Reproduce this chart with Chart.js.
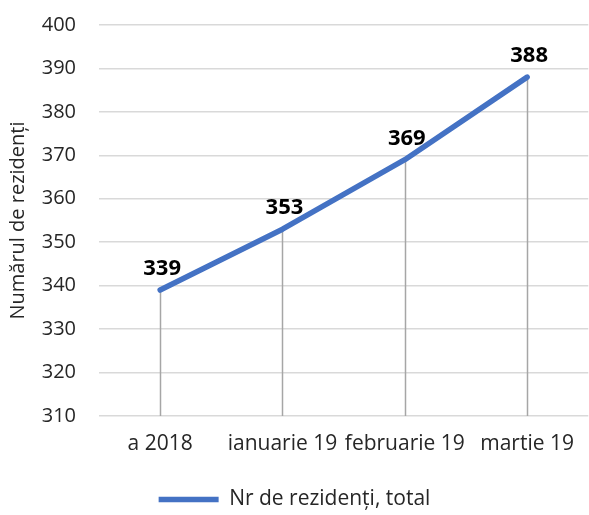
<!DOCTYPE html>
<html>
<head>
<meta charset="utf-8">
<script src="https://cdn.jsdelivr.net/npm/chart.js@4"></script>
<style>
  html, body { margin: 0; padding: 0; background: #fff; }
  #wrap { width: 589px; height: 515px; }
</style>
</head>
<body>
<div id="wrap"><canvas id="residentsChart" width="589" height="515"></canvas></div>
<script>
const categories = ["a 2018", "ianuarie 19", "februarie 19", "martie 19"];
const residents = [339, 353, 369, 388];
const yTicks = [310, 320, 330, 340, 350, 360, 370, 380, 390, 400];

const fontFamily = "'Open Sans', sans-serif";
const textColor = "#262626";

// vertical drop lines from each point to the axis + bold labels over points
const dropLinesAndLabels = {
  id: "dropLinesAndLabels",
  beforeDatasetsDraw(chart) {
    const ctx = chart.ctx;
    const meta = chart.getDatasetMeta(0);
    const bottom = chart.chartArea.bottom;
    ctx.save();
    ctx.strokeStyle = "#a6a6a6";
    ctx.lineWidth = 1.5;
    meta.data.forEach((pt) => {
      ctx.beginPath();
      ctx.moveTo(Math.round(pt.x) + 0.5, pt.y);
      ctx.lineTo(Math.round(pt.x) + 0.5, bottom);
      ctx.stroke();
    });
    ctx.restore();
  },
  afterDatasetsDraw(chart) {
    const ctx = chart.ctx;
    const meta = chart.getDatasetMeta(0);
    ctx.save();
    ctx.font = "bold 22px " + fontFamily;
    ctx.fillStyle = "#000";
    ctx.textAlign = "center";
    ctx.textBaseline = "middle";
    meta.data.forEach((pt, i) => {
      ctx.fillText(String(residents[i]), pt.x + 2, pt.y - 21);
    });
    ctx.restore();
  },
};

const dataResidents = {
  labels: categories,
  datasets: [
    {
      label: "Nr de rezidenți, total",
      data: residents,
      borderColor: "#4472c4",
      backgroundColor: "#4472c4",
      borderWidth: 5.5,
      borderCapStyle: "round",
      borderJoinStyle: "round",
      pointRadius: 0,
      pointHoverRadius: 0,
      tension: 0,
      fill: false,
    },
  ],
};

const configResidents = {
  type: "line",
  data: dataResidents,
  options: {
    responsive: false,
    animation: false,
    layout: { padding: { top: 25, right: 0, left: 0, bottom: -5 } },
    scales: {
      x: {
        offset: true,
        grid: { display: false, drawTicks: false },
        border: { display: false },
        ticks: {
          padding: 15,
          maxRotation: 0,
          minRotation: 0,
          autoSkip: false,
          color: textColor,
          font: { family: fontFamily, size: 21 },
        },
        afterFit(scale) { scale.height = 73; },
      },
      y: {
        min: 310,
        max: 400,
        afterBuildTicks(scale) {
          scale.ticks = yTicks.map((v) => ({ value: v }));
        },
        grid: {
          color: "#d9d9d9",
          lineWidth: 1.5,
          drawTicks: true,
          tickLength: 20,
          tickColor: "rgba(0,0,0,0)",
        },
        border: { display: false },
        ticks: {
          padding: 3,
          color: textColor,
          font: { family: fontFamily, size: 20 },
        },
        title: {
          display: true,
          text: "Numărul de rezidenți",
          color: textColor,
          font: { family: fontFamily, size: 20 },
          padding: { top: 6, bottom: 0 },
        },
        afterFit(scale) { scale.width = 99; },
      },
    },
    plugins: {
      legend: {
        position: "bottom",
        labels: {
          usePointStyle: true,
          pointStyle: "line",
          pointStyleWidth: 60,
          padding: 0,
          color: textColor,
          font: { family: fontFamily, size: 21 },
        },
      },
      tooltip: { enabled: false },
      title: { display: false },
    },
  },
  plugins: [dropLinesAndLabels],
};

const residentsChart = new Chart(
  document.getElementById("residentsChart"),
  configResidents
);
</script>
</body>
</html>
